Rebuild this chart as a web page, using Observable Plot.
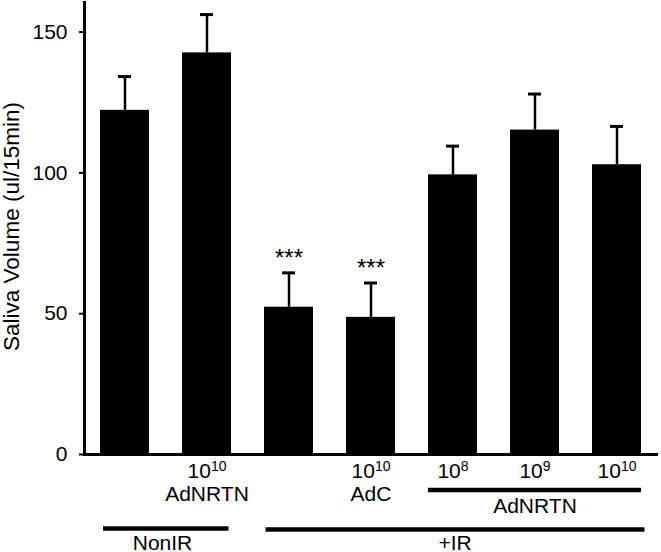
<!DOCTYPE html>
<html>
<head>
<meta charset="utf-8">
<script src="https://cdn.jsdelivr.net/npm/d3@7"></script>
<script src="https://cdn.jsdelivr.net/npm/@observablehq/plot@0.6"></script>
<style>
  html, body { margin: 0; padding: 0; background: #fff; }
  svg { display: block; }
</style>
</head>
<body>
<div id="chart"></div>
<script>
// ---- data ----
const groups = ["NonIR", "NonIR AdNRTN 10^10", "IR", "IR AdC 10^10", "IR AdNRTN 10^8", "IR AdNRTN 10^9", "IR AdNRTN 10^10"];
const means = [122.2, 142.6, 52.3, 48.7, 99.3, 115.2, 102.9];
const errors = [12.0, 13.6, 12.2, 12.2, 10.2, 12.8, 13.6];
const significance = ["", "", "***", "***", "", "", ""];
const doseLabels = ["", "10^10", "", "10^10", "10^8", "10^9", "10^10"];
const vectorLabels = ["", "AdNRTN", "", "AdC", "", "", ""];
const yTicks = [0, 50, 100, 150];
const yLabel = "Saliva Volume (ul/15min)";
const vectorGroupLabel = "AdNRTN";
const vectorGroupSpan = [groups[4], groups[6], groups[5]]; // from, to, label at
const conditionLabels = ["NonIR", "+IR"];
const conditionSpans = [[groups[0], groups[1]], [groups[2], groups[6]]];

const rows = groups.map((g, i) => ({
  group: g,
  mean: means[i],
  upper: means[i] + errors[i],
  sig: significance[i],
  dose: doseLabels[i],
  vector: vectorLabels[i]
}));
const vectorGroup = [{from: vectorGroupSpan[0], to: vectorGroupSpan[1], at: vectorGroupSpan[2], label: vectorGroupLabel}];
const nonIR = [{from: conditionSpans[0][0], to: conditionSpans[0][1], label: conditionLabels[0]}];
const plusIR = [{from: conditionSpans[1][0], to: conditionSpans[1][1], at: groups[4], label: conditionLabels[1]}];

const font = "'Liberation Sans', Arial, Helvetica, sans-serif";
const fs = 21;

const chart = Plot.plot({
  width: 661,
  height: 552,
  marginLeft: 84,
  marginRight: 3,
  marginTop: 2,
  marginBottom: 98,
  style: {fontFamily: font, fontSize: fs + "px", background: "white", color: "black"},
  x: {domain: groups, paddingInner: 0.4, paddingOuter: 0.2, axis: null},
  y: {domain: [0, 160.5]},
  marks: [
    Plot.barY(rows, {x: "group", y: "mean", fill: "black"}),
    Plot.ruleX(rows, {x: "group", y1: "mean", y2: "upper", stroke: "black", strokeWidth: 2.5}),
    Plot.tickY(rows, {x: "group", y: "upper", stroke: "black", strokeWidth: 3, insetLeft: 18, insetRight: 18}),
    Plot.text(rows.filter(d => d.sig), {x: "group", y: "upper", text: "sig", lineAnchor: "bottom", dy: -7, fontSize: 24}),
    Plot.ruleY([0], {stroke: "black", strokeWidth: 3}),
    Plot.frame({anchor: "left", stroke: "black", strokeWidth: 3}),
    Plot.axisY({ticks: yTicks, tickSize: 5, tickPadding: 12, label: null, fontSize: fs, strokeWidth: 2}),
    Plot.text([yLabel], {text: d => d, frameAnchor: "left", textAnchor: "middle", rotate: -90, lineAnchor: "bottom", dx: -66, dy: -2, fontSize: 22.5}),
    // dose labels row
    Plot.text(rows.filter(d => d.dose), {x: "group", text: "dose", frameAnchor: "bottom", lineAnchor: "bottom", dy: 23, fontSize: fs}),
    // vector labels row
    Plot.text(rows.filter(d => d.vector), {x: "group", text: "vector", frameAnchor: "bottom", lineAnchor: "bottom", dy: 46.5, fontSize: fs}),
    // AdNRTN group bracket
    Plot.ruleY(vectorGroup, {y: 0, x1: "from", x2: "to", dy: 35.5, stroke: "black", strokeWidth: 4.5}),
    Plot.text(vectorGroup, {x: "at", text: "label", frameAnchor: "bottom", lineAnchor: "bottom", dy: 58.5, fontSize: fs}),
    // condition brackets
    Plot.ruleY(nonIR, {y: 0, x1: "from", x2: "to", dy: 74, insetLeft: 3, insetRight: 2.5, stroke: "black", strokeWidth: 4.5}),
    Plot.ruleY(plusIR, {y: 0, x1: "from", x2: "to", dy: 75, insetLeft: 1.5, insetRight: -3.5, stroke: "black", strokeWidth: 4.5}),
    Plot.text(nonIR, {x: "from", text: "label", frameAnchor: "bottom", lineAnchor: "bottom", dy: 95, dx: 37.5, fontSize: fs}),
    Plot.text(plusIR, {x: "at", text: "label", frameAnchor: "bottom", lineAnchor: "bottom", dy: 95, dx: 2, fontSize: fs})
  ]
});

// render exponents (after "^") as superscripts
chart.querySelectorAll("text").forEach(t => {
  if (t.children.length === 0 && t.textContent.includes("^")) {
    const [base, exp] = t.textContent.split("^");
    t.textContent = base;
    const ts = document.createElementNS("http://www.w3.org/2000/svg", "tspan");
    ts.setAttribute("dy", "-7");
    ts.setAttribute("font-size", "14");
    ts.textContent = exp;
    t.appendChild(ts);
  }
});

document.getElementById("chart").appendChild(chart);
</script>
</body>
</html>
